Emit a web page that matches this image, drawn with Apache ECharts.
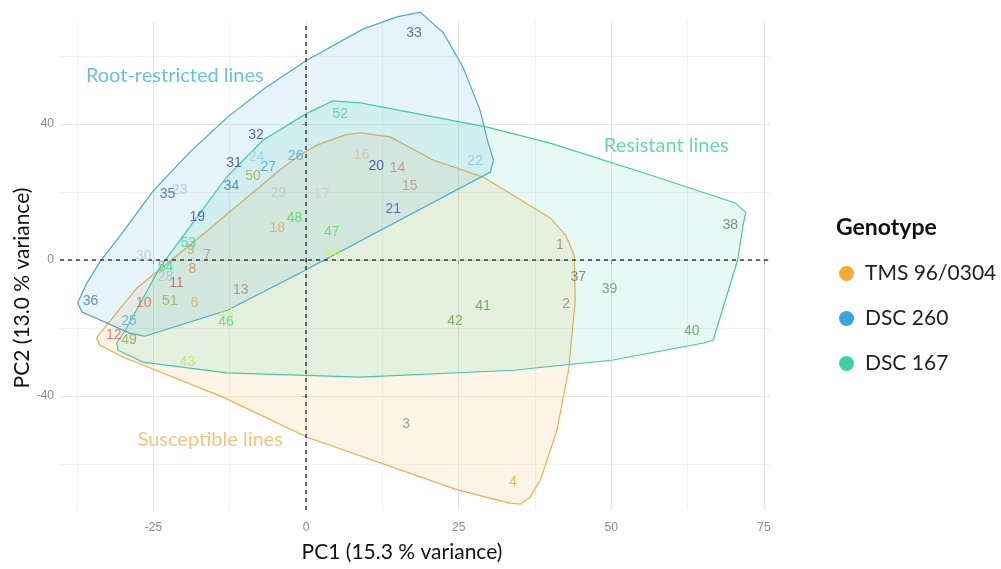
<!DOCTYPE html>
<html>
<head>
<meta charset="utf-8">
<script src="https://cdn.jsdelivr.net/npm/echarts@6/dist/echarts.min.js"></script>
<style>html,body{margin:0;padding:0;background:#fff}#c{width:1001px;height:569px}</style>
</head>
<body>
<div id="c"></div>
<script>
// ---- data ----
const sampleIds = [1,2,3,4,6,7,8,9,10,11,12,13,14,15,16,17,18,
  19,20,21,22,23,24,25,26,27,28,29,30,31,32,33,34,35,36,
  37,38,39,40,41,42,43,44,45,46,47,48,49,50,51,52,53,54];
const pc1 = [41.6,42.6,16.4,33.9,-18.3,-16.2,-18.6,-18.9,-26.6,-21.2,-31.5,-10.7,15.0,17.0,9.1,2.6,-4.7,
  -17.8,11.5,14.3,27.7,-20.7,-8.1,-29.0,-1.7,-6.2,-23.0,-4.5,-26.6,-11.8,-8.2,17.7,-12.2,-22.7,-35.3,
  44.6,69.5,49.7,63.2,29.0,24.4,-19.4,4.4,-13.1,-13.1,4.2,-1.9,-29.0,-8.7,-22.3,5.6,-19.3,-23.0];
const pc2 = [4.4,-12.9,-48.2,-65.3,-12.6,1.5,-2.6,2.9,-12.6,-6.9,-22.1,-8.8,27.1,21.8,30.9,19.3,9.5,
  12.7,27.6,14.9,29.1,20.6,30.2,-17.9,30.7,27.3,-5.1,19.6,1.2,28.4,36.8,66.8,21.6,19.4,-12.0,
  -5.1,10.3,-8.6,-20.8,-13.7,-18.1,-29.9,2.0,-15.9,-18.3,8.3,12.3,-23.5,24.7,-12.0,42.9,4.9,-2.1];
const sampleColors = ['#9c7f70','#9c7f70','#a47c7c','#f1a533','#d6b062','#d48f3c','#cf8f45','#d49b45','#d9703f','#c0604b','#e2604f','#b07f70','#b28a7c','#b89080','#d6c194','#d9c8a2','#d6a961',
  '#3a48b5','#3a3c98','#4150b0','#86c0e8','#a2c2e2','#8ecaf0','#3fb7d8','#3fa9e0','#37a0d8','#a9c0d1','#b7c7d0','#c0c8d2','#3f4778','#404880','#3f5080','#3878a0','#3860a0','#4878b8',
  '#5f7868','#5f7868','#678878','#4f9f4f','#48a048','#5fa040','#c2e060','#cff07f','#c2f07f','#40e050','#4fe050','#48d860','#9fa040','#a0b040','#a0a858','#3fcfaf','#3fcf9f','#3fd08f'];

const xMajorTicks = [-25, 0, 25, 50, 75];
const xMinorTicks = [-37.5, -12.5, 12.5, 37.5, 62.5];
const yMajorTicks = [-40, 0, 40];
const yMinorTicks = [-60, -20, 20, 60];

const genotypes = ['TMS 96/0304', 'DSC 260', 'DSC 167'];
const genotypeColors = ['#F7A93B', '#3BA3DD', '#3DD1A5'];
const hullStrokeColors = ['#F2AC4C', '#4AA6D2', '#3FCBA9'];

const hullTMS = [[-1.0,30.9],[1.8,33.8],[6.4,36.8],[8.9,37.4],[13.8,36.2],[20.8,29.4],[29.0,24.4],[40.0,12.4],[42.6,7.1],[43.9,1.5],[44.1,-11.8],[43.0,-32.4],[41.1,-50.0],[38.4,-64.7],[36.7,-69.7],[35.1,-71.8],[33.4,-71.5],[24.8,-67.6],[0.2,-52.1],[-13.6,-40.3],[-30.0,-28.5],[-33.8,-25.0],[-34.3,-22.9],[-33.3,-20.6],[-27.7,-8.2],[-17.4,6.8],[-4.3,26.5]];
const hullDSC260 = [[18.7,72.9],[22.5,66.8],[25.7,56.8],[28.5,44.1],[29.7,35.3],[30.7,29.4],[30.2,25.9],[-1.0,-3.8],[-12.8,-14.7],[-26.4,-22.4],[-28.9,-21.5],[-36.7,-15.3],[-37.4,-12.6],[-36.1,-7.4],[-33.8,-0.6],[-30.0,8.2],[-25.2,20.0],[-19.0,31.8],[-12.8,42.1],[-6.7,50.6],[0.2,58.8],[9.3,67.9],[14.9,71.5]];
const hullDSC167 = [[0.2,43.2],[4.4,46.8],[8.9,46.2],[29.7,39.1],[40.0,34.4],[56.4,25.0],[70.3,16.8],[72.0,14.1],[71.6,10.3],[70.7,0],[66.7,-23.5],[65.1,-24.4],[50.3,-29.4],[33.9,-32.4],[8.9,-34.4],[-13.0,-33.2],[-26.7,-30.0],[-30.8,-26.5],[-31.0,-24.4],[-29.3,-19.7],[-23.9,-2.1],[-13.0,24.4],[-7.0,35.3]];

const groupLabelText = ['Root-restricted lines', 'Resistant lines', 'Susceptible lines'];
const groupLabelX = [-21.5, 59.0, -15.7];
const groupLabelY = [54.4, 33.8, -52.9];
const groupLabelColors = ['#45b0dc', '#3fcca6', '#f3b35f'];

const X_MIN = -40.3, X_MAX = 76, Y_MIN = -73.5, Y_MAX = 70;

// ---- chart ----
function rgba(hex, a) {
  const n = parseInt(hex.slice(1), 16);
  return 'rgba(' + ((n >> 16) & 255) + ',' + ((n >> 8) & 255) + ',' + (n & 255) + ',' + a + ')';
}
function hullSeries(name, pts, color, stroke) {
  return {
    type: 'custom', name: name, coordinateSystem: 'cartesian2d',
    data: pts, encode: {x: 0, y: 1}, silent: true, z: 1,
    itemStyle: {color: color},
    renderItem: function (params, api) {
      if (params.dataIndex !== 0) return null;
      const coords = pts.map(p => api.coord(p));
      return {type: 'polygon', shape: {points: coords},
        style: {fill: rgba(color, 0.12), stroke: stroke, lineWidth: 1.2}};
    }
  };
}

const chart = echarts.init(document.getElementById('c'), null, {renderer: 'canvas'});
const labelData = sampleIds.map((id, i) => ({
  name: String(id), value: [pc1[i], pc2[i]], label: {color: sampleColors[i]}
}));
const groupData = groupLabelText.map((t, i) => ({
  name: t, value: [groupLabelX[i], groupLabelY[i]], label: {color: groupLabelColors[i]}
}));

chart.setOption({
  animation: false,
  backgroundColor: '#ffffff',
  grid: {left: 60, right: 231, top: 22, bottom: 59},
  title: {text: 'Genotype', left: 831, top: 211,
    textStyle: {fontSize: 23, fontWeight: 'bold', fontFamily: 'Lato', color: '#111'}},
  legend: {
    orient: 'vertical', left: 834, top: 258, itemWidth: 15, itemHeight: 15, itemGap: 24,
    icon: 'circle', selectedMode: false,
    textStyle: {fontSize: 21, fontFamily: 'Lato', color: '#222', padding: [0, 0, 0, 6]},
    data: genotypes.map((g, i) => ({name: g, itemStyle: {color: genotypeColors[i]}}))
  },
  xAxis: [
    {type: 'value', min: X_MIN, max: X_MAX, position: 'bottom',
      axisLine: {show: false},
      axisTick: {show: true, customValues: xMajorTicks, length: 4, lineStyle: {color: '#999'}},
      axisLabel: {customValues: xMajorTicks, color: '#8a8a8a', fontSize: 12, margin: 12, fontFamily: 'Liberation Sans'},
      splitLine: {show: true, lineStyle: {color: '#e6e6e6', width: 1}}},
    {type: 'value', min: X_MIN, max: X_MAX, position: 'bottom',
      axisLine: {show: false},
      axisTick: {show: false, customValues: xMinorTicks},
      axisLabel: {show: false},
      splitLine: {show: true, lineStyle: {color: '#f1f1f1', width: 1}}}
  ],
  yAxis: [
    {type: 'value', min: Y_MIN, max: Y_MAX, position: 'left',
      axisLine: {show: false},
      axisTick: {show: true, customValues: yMajorTicks, length: 4, lineStyle: {color: '#999'}},
      axisLabel: {customValues: yMajorTicks, color: '#8a8a8a', fontSize: 12, margin: 6, fontFamily: 'Liberation Sans'},
      splitLine: {show: true, lineStyle: {color: '#e6e6e6', width: 1}}},
    {type: 'value', min: Y_MIN, max: Y_MAX, position: 'left',
      axisLine: {show: false},
      axisTick: {show: false, customValues: yMinorTicks},
      axisLabel: {show: false},
      splitLine: {show: true, lineStyle: {color: '#f1f1f1', width: 1}}}
  ],
  graphic: [
    {type: 'text', x: 402, y: 552, style: {text: 'PC1 (15.3 % variance)', font: '21px Lato', fill: '#111', textAlign: 'center', textVerticalAlign: 'middle'}},
    {type: 'text', x: 22, y: 288, rotation: Math.PI / 2, style: {text: 'PC2 (13.0 % variance)', font: '21px Lato', fill: '#111', textAlign: 'center', textVerticalAlign: 'middle'}}
  ],
  series: [
    hullSeries(genotypes[0], hullTMS, genotypeColors[0], hullStrokeColors[0]),
    hullSeries(genotypes[1], hullDSC260, genotypeColors[1], hullStrokeColors[1]),
    hullSeries(genotypes[2], hullDSC167, genotypeColors[2], hullStrokeColors[2]),
    {
      type: 'scatter', name: 'samples', data: labelData, symbolSize: 0, z: 5, silent: true,
      label: {show: true, position: 'inside', formatter: '{b}', fontSize: 14, fontFamily: 'Liberation Sans'},
      markLine: {silent: true, symbol: 'none', animation: false,
        label: {show: false},
        lineStyle: {type: [4, 4], color: '#3a3a3a', width: 1.5},
        data: [{xAxis: 0}, {yAxis: 0}]}
    },
    {
      type: 'scatter', name: 'groupLabels', data: groupData, symbolSize: 0, z: 6, silent: true,
      label: {show: true, position: 'inside', formatter: '{b}', fontSize: 20, fontFamily: 'Lato'}
    }
  ]
});
</script>
</body>
</html>
